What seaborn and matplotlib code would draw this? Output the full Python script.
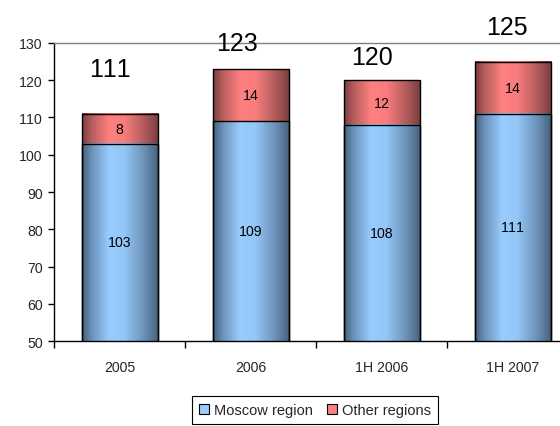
import numpy as np
import pandas as pd
import matplotlib
matplotlib.use("Agg")
import matplotlib.pyplot as plt
import seaborn as sns
from matplotlib.colors import LinearSegmentedColormap
from matplotlib.lines import Line2D

# Data
periods = ["2005", "2006", "1H 2006", "1H 2007"]
moscow = [103, 109, 108, 111]
other = [8, 14, 12, 14]
totals = [m + o for m, o in zip(moscow, other)]

sns.set_style("white")
plt.rcParams["font.family"] = ["Liberation Sans", "DejaVu Sans"]
plt.rcParams["text.kerning_factor"] = 20  # tabular-looking digits, no pair kerning

YMIN, YMAX = 50, 130
SMALL = 10.2

fig = plt.figure(figsize=(5.6, 4.27), dpi=100)
ax = fig.add_axes([0.0964, 0.199, 0.936, 0.698])

df = pd.DataFrame({"period": periods, "moscow": moscow, "other": other, "total": totals})

# Stacked bars: draw totals first, then the Moscow part over them
sns.barplot(data=df, x="period", y="total", color="#FF8080", width=0.58,
            errorbar=None, edgecolor="black", linewidth=1.0, ax=ax)
n_total = len(ax.patches)
sns.barplot(data=df, x="period", y="moscow", color="#99CCFF", width=0.58,
            errorbar=None, edgecolor="black", linewidth=1.0, ax=ax)

blue_cmap = LinearSegmentedColormap.from_list(
    "blue_bar", [(0.0, "#45607C"), (0.12, "#6A90B8"), (0.35, "#99CCFF"),
                 (0.55, "#94C6F7"), (0.8, "#6E94BA"), (1.0, "#44607B")])
red_cmap = LinearSegmentedColormap.from_list(
    "red_bar", [(0.0, "#7A3E3E"), (0.12, "#B45C5C"), (0.35, "#FF8080"),
                (0.55, "#F97D7D"), (0.8, "#B65D5D"), (1.0, "#773C3C")])

grad = np.linspace(0, 1, 256).reshape(1, -1)
for i, patch in enumerate(list(ax.patches)):
    cmap = red_cmap if i < n_total else blue_cmap
    x0, y0 = patch.get_x(), patch.get_y()
    w, h = patch.get_width(), patch.get_height()
    lo = max(y0, YMIN)
    hi = y0 + h
    ax.imshow(grad, cmap=cmap, aspect="auto", extent=(x0, x0 + w, lo, hi),
              zorder=patch.get_zorder() - 0.05, interpolation="bilinear")
    patch.set_facecolor("none")

ax.set_xlim(-0.5, 3.5)
ax.set_ylim(YMIN, YMAX)

# Segment labels
for i in range(len(periods)):
    ax.text(i, (YMIN + moscow[i]) / 2, str(moscow[i]), ha="center", va="center",
            fontsize=SMALL, color="black", zorder=5)
    ax.text(i, moscow[i] + other[i] / 2, str(other[i]), ha="center", va="center",
            fontsize=SMALL, color="black", zorder=5)

# Totals above the bars
total_dx = [-0.07, -0.1, -0.07, -0.04]
total_dy = [12.0, 7.0, 6.2, 9.3]
for i, t in enumerate(totals):
    ax.text(i + total_dx[i], t + total_dy[i], str(t), ha="center", va="center",
            fontsize=18, color="black", clip_on=False, zorder=5)

# Axes styling
ax.set_xlabel("")
ax.set_ylabel("")
ax.set_yticks(range(YMIN, YMAX + 1, 10))
ax.tick_params(axis="y", which="major", direction="out", length=4, width=1,
               color="black", labelsize=SMALL, pad=4, left=True)
ax.set_xticks(range(len(periods)))
ax.set_xticklabels(periods)
ax.set_xticks(np.arange(-0.5, len(periods), 1.0), minor=True)
ax.tick_params(axis="x", which="major", length=0, labelsize=SMALL, pad=14)
ax.tick_params(axis="x", which="minor", direction="out", length=5, width=1,
               color="black", bottom=True)
for side in ("left", "bottom"):
    ax.spines[side].set_color("black")
    ax.spines[side].set_linewidth(1.0)
ax.spines["top"].set_color("#808080")
ax.spines["top"].set_linewidth(1.0)
ax.spines["right"].set_visible(False)
ax.grid(False)

handles = [
    Line2D([], [], marker="s", linestyle="none", markersize=7,
           markerfacecolor="#99CCFF", markeredgecolor="black", markeredgewidth=0.8),
    Line2D([], [], marker="s", linestyle="none", markersize=7,
           markerfacecolor="#FF8080", markeredgecolor="black", markeredgewidth=0.8),
]
leg = fig.legend(handles, ["Moscow region", "Other regions"], loc="center",
                 bbox_to_anchor=(0.5625, 0.037), ncol=2, fontsize=10.5,
                 frameon=True, fancybox=False, shadow=False, handlelength=0.7,
                 handletextpad=0.3, columnspacing=1.0, borderpad=0.5,
                 borderaxespad=0)
leg.get_frame().set_edgecolor("black")
leg.get_frame().set_linewidth(0.8)
leg.get_frame().set_alpha(1.0)

fig.savefig("out.png", dpi=100)
